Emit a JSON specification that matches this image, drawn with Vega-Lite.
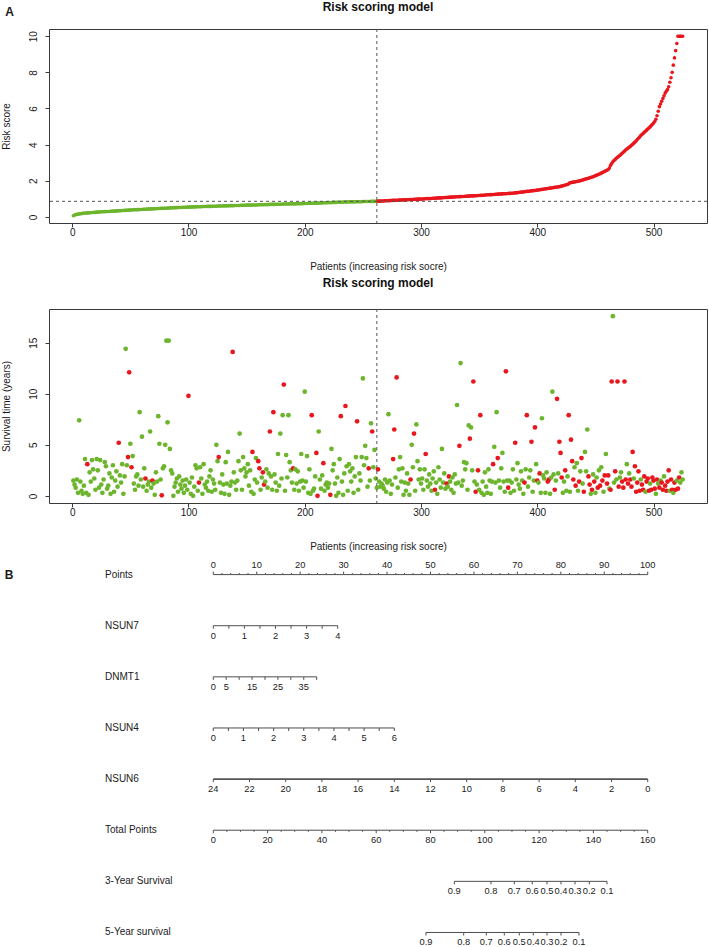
{
"$schema": "https://vega.github.io/schema/vega-lite/v6.json",
"autosize": {"type": "pad"},
"padding": {"left": 0, "top": 0, "right": 3, "bottom": 2},
"background": "white",
"config": {
  "font": "Liberation Sans",
  "view": {"stroke": "#3a3a3a", "strokeWidth": 1},
  "axis": {"grid": false, "domain": false, "tickColor": "#3a3a3a", "tickSize": 4, "labelColor": "#1a1a1a", "titleColor": "#1a1a1a", "labelFontSize": 10, "titleFontSize": 10, "titleFontWeight": "normal", "labelFont": "Liberation Sans", "titleFont": "Liberation Sans", "labelOverlap": false, "labelBound": false},
  "axisX": {"labelPadding": 0, "titlePadding": 24, "labelFlush": false},
  "axisY": {"labelAngle": 270, "labelAlign": "center", "labelBaseline": "alphabetic", "labelPadding": 9, "titlePadding": 19, "titleBaseline": "alphabetic", "labelFlush": false},
  "title": {"fontSize": 12, "fontWeight": "bold", "color": "#111111", "anchor": "middle", "frame": "group", "baseline": "alphabetic"},
  "text": {"font": "Liberation Sans", "color": "#1a1a1a"}
},
"datasets": {
"pts": [
{"p":1,"r":0.06,"t":1.5,"s":0},{"p":2,"r":0.10,"t":1.1,"s":0},{"p":3,"r":0.12,"t":0.8,"s":0},{"p":4,"r":0.14,"t":1.6,"s":0},{"p":5,"r":0.15,"t":0.3,"s":0},{"p":6,"r":0.16,"t":7.4,"s":0},{"p":7,"r":0.17,"t":1.4,"s":0},{"p":8,"r":0.18,"t":0.5,"s":0},{"p":9,"r":0.19,"t":0.2,"s":0},{"p":10,"r":0.20,"t":1.0,"s":0},
{"p":11,"r":0.21,"t":3.6,"s":0},{"p":12,"r":0.21,"t":0.3,"s":0},{"p":13,"r":0.22,"t":3.1,"s":1},{"p":14,"r":0.22,"t":0.1,"s":0},{"p":15,"r":0.23,"t":2.3,"s":0},{"p":16,"r":0.23,"t":1.4,"s":0},{"p":17,"r":0.24,"t":3.5,"s":0},{"p":18,"r":0.24,"t":2.6,"s":0},{"p":19,"r":0.25,"t":1.7,"s":0},{"p":20,"r":0.25,"t":0.6,"s":0},
{"p":21,"r":0.26,"t":3.6,"s":0},{"p":22,"r":0.26,"t":2.5,"s":0},{"p":23,"r":0.27,"t":0.8,"s":0},{"p":24,"r":0.27,"t":3.5,"s":0},{"p":25,"r":0.28,"t":1.1,"s":0},{"p":26,"r":0.28,"t":0.3,"s":0},{"p":27,"r":0.28,"t":1.6,"s":0},{"p":28,"r":0.29,"t":3.3,"s":0},{"p":29,"r":0.29,"t":2.9,"s":0},{"p":30,"r":0.30,"t":0.7,"s":0},
{"p":31,"r":0.30,"t":1.0,"s":0},{"p":32,"r":0.30,"t":2.2,"s":0},{"p":33,"r":0.31,"t":0.2,"s":0},{"p":34,"r":0.31,"t":1.8,"s":0},{"p":35,"r":0.32,"t":3.0,"s":0},{"p":36,"r":0.32,"t":0.4,"s":0},{"p":37,"r":0.32,"t":1.5,"s":0},{"p":38,"r":0.33,"t":2.4,"s":0},{"p":39,"r":0.33,"t":0.9,"s":0},{"p":40,"r":0.34,"t":5.2,"s":1},
{"p":41,"r":0.34,"t":2.0,"s":0},{"p":42,"r":0.34,"t":1.3,"s":0},{"p":43,"r":0.35,"t":3.1,"s":0},{"p":44,"r":0.35,"t":0.2,"s":0},{"p":45,"r":0.36,"t":1.9,"s":0},{"p":46,"r":0.36,"t":14.4,"s":0},{"p":47,"r":0.36,"t":3.0,"s":0},{"p":48,"r":0.37,"t":3.8,"s":1},{"p":49,"r":0.37,"t":12.1,"s":1},{"p":50,"r":0.38,"t":5.1,"s":0},
{"p":51,"r":0.38,"t":2.8,"s":1},{"p":52,"r":0.39,"t":3.9,"s":0},{"p":53,"r":0.39,"t":1.2,"s":0},{"p":54,"r":0.39,"t":0.6,"s":0},{"p":55,"r":0.40,"t":1.9,"s":0},{"p":56,"r":0.40,"t":2.1,"s":0},{"p":57,"r":0.40,"t":1.0,"s":0},{"p":58,"r":0.41,"t":8.2,"s":0},{"p":59,"r":0.41,"t":1.6,"s":0},{"p":60,"r":0.41,"t":5.8,"s":0},
{"p":61,"r":0.42,"t":0.9,"s":0},{"p":62,"r":0.42,"t":2.7,"s":0},{"p":63,"r":0.42,"t":1.7,"s":1},{"p":64,"r":0.43,"t":0.5,"s":0},{"p":65,"r":0.43,"t":1.1,"s":0},{"p":66,"r":0.43,"t":1.4,"s":0},{"p":67,"r":0.44,"t":6.3,"s":0},{"p":68,"r":0.44,"t":0.8,"s":0},{"p":69,"r":0.44,"t":1.5,"s":1},{"p":70,"r":0.45,"t":1.2,"s":0},
{"p":71,"r":0.45,"t":0.1,"s":0},{"p":72,"r":0.45,"t":2.3,"s":0},{"p":73,"r":0.46,"t":1.4,"s":0},{"p":74,"r":0.46,"t":7.8,"s":0},{"p":75,"r":0.46,"t":5.1,"s":0},{"p":76,"r":0.47,"t":1.6,"s":0},{"p":77,"r":0.47,"t":0.05,"s":1},{"p":78,"r":0.47,"t":2.7,"s":0},{"p":79,"r":0.48,"t":2.9,"s":0},{"p":80,"r":0.48,"t":5.0,"s":0},
{"p":81,"r":0.48,"t":15.2,"s":0},{"p":82,"r":0.49,"t":7.2,"s":0},{"p":83,"r":0.49,"t":15.2,"s":0},{"p":84,"r":0.49,"t":4.6,"s":0},{"p":85,"r":0.50,"t":2.5,"s":0},{"p":86,"r":0.50,"t":2.2,"s":0},{"p":87,"r":0.50,"t":0.0,"s":0},{"p":88,"r":0.51,"t":0.9,"s":0},{"p":89,"r":0.51,"t":1.3,"s":0},{"p":90,"r":0.51,"t":1.7,"s":0},
{"p":91,"r":0.52,"t":0.4,"s":0},{"p":92,"r":0.52,"t":1.9,"s":0},{"p":93,"r":0.52,"t":1.1,"s":0},{"p":94,"r":0.52,"t":0.7,"s":0},{"p":95,"r":0.53,"t":1.5,"s":0},{"p":96,"r":0.53,"t":0.3,"s":0},{"p":97,"r":0.53,"t":1.0,"s":0},{"p":98,"r":0.53,"t":1.6,"s":0},{"p":99,"r":0.54,"t":0.6,"s":0},{"p":100,"r":0.54,"t":9.8,"s":1},
{"p":101,"r":0.54,"t":1.3,"s":0},{"p":102,"r":0.54,"t":0.2,"s":0},{"p":103,"r":0.55,"t":1.8,"s":0},{"p":104,"r":0.55,"t":0.0,"s":0},{"p":105,"r":0.55,"t":0.9,"s":0},{"p":106,"r":0.55,"t":3.0,"s":0},{"p":107,"r":0.56,"t":2.7,"s":0},{"p":108,"r":0.56,"t":0.5,"s":0},{"p":109,"r":0.56,"t":1.3,"s":1},{"p":110,"r":0.56,"t":2.8,"s":0},
{"p":111,"r":0.56,"t":1.7,"s":0},{"p":112,"r":0.57,"t":0.2,"s":0},{"p":113,"r":0.57,"t":3.1,"s":0},{"p":114,"r":0.57,"t":1.1,"s":0},{"p":115,"r":0.57,"t":0.8,"s":0},{"p":116,"r":0.58,"t":1.4,"s":0},{"p":117,"r":0.58,"t":0.5,"s":0},{"p":118,"r":0.58,"t":1.9,"s":0},{"p":119,"r":0.58,"t":2.5,"s":0},{"p":120,"r":0.58,"t":0.4,"s":0},
{"p":121,"r":0.59,"t":1.6,"s":0},{"p":122,"r":0.59,"t":1.2,"s":0},{"p":123,"r":0.59,"t":0.6,"s":0},{"p":124,"r":0.59,"t":5.0,"s":0},{"p":125,"r":0.60,"t":3.4,"s":0},{"p":126,"r":0.60,"t":3.8,"s":1},{"p":127,"r":0.60,"t":1.3,"s":0},{"p":128,"r":0.60,"t":0.3,"s":0},{"p":129,"r":0.60,"t":2.1,"s":0},{"p":130,"r":0.61,"t":1.1,"s":0},
{"p":131,"r":0.61,"t":0.2,"s":0},{"p":132,"r":0.61,"t":3.3,"s":0},{"p":133,"r":0.61,"t":1.2,"s":0},{"p":134,"r":0.61,"t":4.3,"s":0},{"p":135,"r":0.62,"t":0.1,"s":0},{"p":136,"r":0.62,"t":1.0,"s":0},{"p":137,"r":0.62,"t":1.4,"s":0},{"p":138,"r":0.62,"t":14.1,"s":1},{"p":139,"r":0.62,"t":2.3,"s":0},{"p":140,"r":0.63,"t":1.3,"s":0},
{"p":141,"r":0.63,"t":0.6,"s":0},{"p":142,"r":0.63,"t":1.5,"s":0},{"p":143,"r":0.63,"t":3.4,"s":0},{"p":144,"r":0.63,"t":6.1,"s":0},{"p":145,"r":0.64,"t":2.5,"s":0},{"p":146,"r":0.64,"t":0.6,"s":0},{"p":147,"r":0.64,"t":3.8,"s":0},{"p":148,"r":0.64,"t":2.7,"s":0},{"p":149,"r":0.64,"t":1.9,"s":0},{"p":150,"r":0.65,"t":2.3,"s":0},
{"p":151,"r":0.65,"t":3.1,"s":0},{"p":152,"r":0.65,"t":1.0,"s":0},{"p":153,"r":0.65,"t":2.5,"s":0},{"p":154,"r":0.65,"t":0.4,"s":0},{"p":155,"r":0.66,"t":4.3,"s":1},{"p":156,"r":0.66,"t":0.2,"s":0},{"p":157,"r":0.66,"t":1.6,"s":0},{"p":158,"r":0.66,"t":3.7,"s":0},{"p":159,"r":0.66,"t":1.3,"s":0},{"p":160,"r":0.67,"t":3.4,"s":1},
{"p":161,"r":0.67,"t":2.7,"s":1},{"p":162,"r":0.67,"t":0.6,"s":0},{"p":163,"r":0.67,"t":1.8,"s":0},{"p":164,"r":0.67,"t":2.3,"s":1},{"p":165,"r":0.68,"t":1.1,"s":1},{"p":166,"r":0.68,"t":1.4,"s":0},{"p":167,"r":0.68,"t":2.6,"s":0},{"p":168,"r":0.68,"t":0.8,"s":0},{"p":169,"r":0.68,"t":2.2,"s":0},{"p":170,"r":0.69,"t":6.3,"s":1},
{"p":171,"r":0.69,"t":1.9,"s":0},{"p":172,"r":0.69,"t":0.6,"s":0},{"p":173,"r":0.69,"t":8.2,"s":1},{"p":174,"r":0.69,"t":2.1,"s":0},{"p":175,"r":0.70,"t":1.3,"s":0},{"p":176,"r":0.70,"t":0.5,"s":0},{"p":177,"r":0.70,"t":4.1,"s":0},{"p":178,"r":0.70,"t":1.0,"s":0},{"p":179,"r":0.70,"t":6.1,"s":0},{"p":180,"r":0.70,"t":1.7,"s":0},
{"p":181,"r":0.71,"t":7.9,"s":0},{"p":182,"r":0.71,"t":10.9,"s":1},{"p":183,"r":0.71,"t":0.5,"s":0},{"p":184,"r":0.71,"t":4.0,"s":0},{"p":185,"r":0.71,"t":1.8,"s":0},{"p":186,"r":0.71,"t":7.9,"s":0},{"p":187,"r":0.72,"t":3.3,"s":0},{"p":188,"r":0.72,"t":2.5,"s":0},{"p":189,"r":0.72,"t":1.3,"s":0},{"p":190,"r":0.72,"t":2.7,"s":1},
{"p":191,"r":0.72,"t":0.6,"s":0},{"p":192,"r":0.72,"t":2.6,"s":0},{"p":193,"r":0.73,"t":1.2,"s":0},{"p":194,"r":0.73,"t":2.4,"s":0},{"p":195,"r":0.73,"t":0.5,"s":0},{"p":196,"r":0.73,"t":1.4,"s":0},{"p":197,"r":0.73,"t":4.1,"s":0},{"p":198,"r":0.73,"t":1.5,"s":0},{"p":199,"r":0.74,"t":0.8,"s":0},{"p":200,"r":0.74,"t":10.2,"s":0},
{"p":201,"r":0.74,"t":1.4,"s":0},{"p":202,"r":0.74,"t":3.9,"s":0},{"p":203,"r":0.75,"t":0.3,"s":0},{"p":204,"r":0.75,"t":2.6,"s":0},{"p":205,"r":0.75,"t":0.2,"s":0},{"p":206,"r":0.75,"t":7.9,"s":1},{"p":207,"r":0.75,"t":0.5,"s":0},{"p":208,"r":0.76,"t":0.7,"s":0},{"p":209,"r":0.76,"t":1.9,"s":0},{"p":210,"r":0.76,"t":4.2,"s":1},
{"p":211,"r":0.76,"t":0.0,"s":1},{"p":212,"r":0.77,"t":6.3,"s":0},{"p":213,"r":0.77,"t":1.6,"s":0},{"p":214,"r":0.77,"t":0.7,"s":0},{"p":215,"r":0.77,"t":2.0,"s":0},{"p":216,"r":0.78,"t":3.2,"s":1},{"p":217,"r":0.78,"t":0.5,"s":0},{"p":218,"r":0.78,"t":1.1,"s":0},{"p":219,"r":0.78,"t":1.3,"s":0},{"p":220,"r":0.79,"t":0.8,"s":0},
{"p":221,"r":0.79,"t":1.2,"s":0},{"p":222,"r":0.79,"t":0.1,"s":1},{"p":223,"r":0.79,"t":4.6,"s":0},{"p":224,"r":0.80,"t":2.5,"s":0},{"p":225,"r":0.80,"t":3.1,"s":0},{"p":226,"r":0.80,"t":1.2,"s":0},{"p":227,"r":0.80,"t":0.0,"s":0},{"p":228,"r":0.81,"t":1.8,"s":0},{"p":229,"r":0.81,"t":0.3,"s":0},{"p":230,"r":0.81,"t":3.6,"s":0},
{"p":231,"r":0.81,"t":7.8,"s":1},{"p":232,"r":0.81,"t":1.4,"s":0},{"p":233,"r":0.82,"t":0.1,"s":0},{"p":234,"r":0.82,"t":2.2,"s":0},{"p":235,"r":0.82,"t":8.8,"s":1},{"p":236,"r":0.82,"t":2.9,"s":0},{"p":237,"r":0.82,"t":0.5,"s":0},{"p":238,"r":0.83,"t":3.1,"s":0},{"p":239,"r":0.83,"t":2.4,"s":0},{"p":240,"r":0.83,"t":1.4,"s":0},
{"p":241,"r":0.83,"t":2.7,"s":0},{"p":242,"r":0.83,"t":0.3,"s":0},{"p":243,"r":0.83,"t":1.9,"s":0},{"p":244,"r":0.84,"t":3.8,"s":0},{"p":245,"r":0.84,"t":7.3,"s":1},{"p":246,"r":0.84,"t":0.6,"s":0},{"p":247,"r":0.84,"t":2.2,"s":0},{"p":248,"r":0.84,"t":1.5,"s":0},{"p":249,"r":0.84,"t":3.8,"s":0},{"p":250,"r":0.85,"t":11.5,"s":0},
{"p":251,"r":0.85,"t":3.0,"s":0},{"p":252,"r":0.85,"t":4.9,"s":0},{"p":253,"r":0.85,"t":3.7,"s":0},{"p":254,"r":0.85,"t":0.9,"s":0},{"p":255,"r":0.85,"t":2.7,"s":1},{"p":256,"r":0.85,"t":1.5,"s":0},{"p":257,"r":0.86,"t":7.1,"s":0},{"p":258,"r":0.86,"t":6.3,"s":1},{"p":259,"r":0.86,"t":2.8,"s":0},{"p":260,"r":0.86,"t":4.5,"s":0},
{"p":261,"r":0.86,"t":1.7,"s":0},{"p":262,"r":0.86,"t":0.8,"s":0},{"p":263,"r":0.87,"t":2.6,"s":1},{"p":264,"r":0.87,"t":1.4,"s":0},{"p":265,"r":0.87,"t":0.9,"s":0},{"p":266,"r":0.88,"t":1.2,"s":0},{"p":267,"r":0.88,"t":1.0,"s":0},{"p":268,"r":0.88,"t":0.7,"s":0},{"p":269,"r":0.89,"t":1.6,"s":0},{"p":270,"r":0.89,"t":0.4,"s":0},
{"p":271,"r":0.89,"t":1.3,"s":0},{"p":272,"r":0.90,"t":8.0,"s":0},{"p":273,"r":0.90,"t":1.5,"s":0},{"p":274,"r":0.90,"t":0.2,"s":0},{"p":275,"r":0.91,"t":1.1,"s":0},{"p":276,"r":0.91,"t":3.6,"s":1},{"p":277,"r":0.91,"t":6.5,"s":1},{"p":278,"r":0.92,"t":1.8,"s":0},{"p":279,"r":0.92,"t":11.6,"s":1},{"p":280,"r":0.92,"t":0.8,"s":0},
{"p":281,"r":0.93,"t":2.6,"s":0},{"p":282,"r":0.93,"t":3.8,"s":0},{"p":283,"r":0.93,"t":1.4,"s":0},{"p":284,"r":0.94,"t":2.7,"s":0},{"p":285,"r":0.94,"t":0.1,"s":0},{"p":286,"r":0.94,"t":1.3,"s":0},{"p":287,"r":0.95,"t":0.5,"s":0},{"p":288,"r":0.95,"t":2.2,"s":0},{"p":289,"r":0.95,"t":1.2,"s":0},{"p":290,"r":0.96,"t":0.1,"s":0},
{"p":291,"r":0.96,"t":1.6,"s":1},{"p":292,"r":0.96,"t":5.0,"s":0},{"p":293,"r":0.96,"t":2.8,"s":0},{"p":294,"r":0.97,"t":6.1,"s":1},{"p":295,"r":0.97,"t":0.5,"s":0},{"p":296,"r":0.97,"t":7.0,"s":0},{"p":297,"r":0.98,"t":3.4,"s":0},{"p":298,"r":0.98,"t":1.6,"s":0},{"p":299,"r":0.98,"t":2.6,"s":0},{"p":300,"r":0.98,"t":1.2,"s":0},
{"p":301,"r":0.99,"t":1.7,"s":0},{"p":302,"r":0.99,"t":0.6,"s":0},{"p":303,"r":1.00,"t":2.6,"s":0},{"p":304,"r":1.00,"t":4.1,"s":1},{"p":305,"r":1.01,"t":1.5,"s":0},{"p":306,"r":1.01,"t":0.9,"s":0},{"p":307,"r":1.01,"t":2.1,"s":0},{"p":308,"r":1.02,"t":1.2,"s":0},{"p":309,"r":1.02,"t":0.5,"s":0},{"p":310,"r":1.03,"t":1.7,"s":0},
{"p":311,"r":1.03,"t":2.4,"s":0},{"p":312,"r":1.03,"t":0.6,"s":1},{"p":313,"r":1.04,"t":1.3,"s":0},{"p":314,"r":1.04,"t":0.2,"s":0},{"p":315,"r":1.05,"t":2.8,"s":0},{"p":316,"r":1.05,"t":1.6,"s":0},{"p":317,"r":1.05,"t":0.8,"s":0},{"p":318,"r":1.06,"t":4.6,"s":0},{"p":319,"r":1.06,"t":1.3,"s":0},{"p":320,"r":1.07,"t":2.2,"s":0},
{"p":321,"r":1.07,"t":0.7,"s":0},{"p":322,"r":1.07,"t":1.2,"s":1},{"p":323,"r":1.08,"t":0.9,"s":0},{"p":324,"r":1.08,"t":1.9,"s":1},{"p":325,"r":1.09,"t":1.4,"s":0},{"p":326,"r":1.09,"t":0.6,"s":0},{"p":327,"r":1.09,"t":1.8,"s":0},{"p":328,"r":1.10,"t":0.3,"s":0},{"p":329,"r":1.10,"t":2.1,"s":0},{"p":330,"r":1.11,"t":1.2,"s":0},
{"p":331,"r":1.11,"t":8.9,"s":0},{"p":332,"r":1.11,"t":1.3,"s":0},{"p":333,"r":1.12,"t":4.9,"s":1},{"p":334,"r":1.12,"t":13.0,"s":0},{"p":335,"r":1.13,"t":1.0,"s":0},{"p":336,"r":1.13,"t":1.5,"s":0},{"p":337,"r":1.13,"t":3.3,"s":0},{"p":338,"r":1.14,"t":2.6,"s":0},{"p":339,"r":1.14,"t":3.2,"s":0},{"p":340,"r":1.15,"t":0.6,"s":0},
{"p":341,"r":1.15,"t":6.9,"s":0},{"p":342,"r":1.15,"t":5.6,"s":1},{"p":343,"r":1.16,"t":6.7,"s":0},{"p":344,"r":1.16,"t":2.5,"s":0},{"p":345,"r":1.16,"t":11.2,"s":1},{"p":346,"r":1.17,"t":1.4,"s":0},{"p":347,"r":1.17,"t":0.4,"s":1},{"p":348,"r":1.17,"t":1.1,"s":0},{"p":349,"r":1.18,"t":2.5,"s":1},{"p":350,"r":1.18,"t":0.6,"s":0},
{"p":351,"r":1.19,"t":7.9,"s":1},{"p":352,"r":1.19,"t":0.3,"s":0},{"p":353,"r":1.20,"t":1.4,"s":0},{"p":354,"r":1.20,"t":0.1,"s":0},{"p":355,"r":1.21,"t":2.3,"s":0},{"p":356,"r":1.21,"t":0.9,"s":0},{"p":357,"r":1.22,"t":0.3,"s":0},{"p":358,"r":1.22,"t":2.6,"s":0},{"p":359,"r":1.22,"t":1.5,"s":0},{"p":360,"r":1.23,"t":0.2,"s":0},
{"p":361,"r":1.23,"t":1.4,"s":0},{"p":362,"r":1.24,"t":3.1,"s":1},{"p":363,"r":1.24,"t":4.8,"s":0},{"p":364,"r":1.25,"t":1.3,"s":0},{"p":365,"r":1.25,"t":8.2,"s":0},{"p":366,"r":1.26,"t":3.7,"s":1},{"p":367,"r":1.26,"t":1.5,"s":0},{"p":368,"r":1.26,"t":0.8,"s":0},{"p":369,"r":1.27,"t":2.7,"s":0},{"p":370,"r":1.27,"t":4.2,"s":0},
{"p":371,"r":1.28,"t":1.4,"s":0},{"p":372,"r":1.28,"t":0.4,"s":0},{"p":373,"r":1.28,"t":12.2,"s":1},{"p":374,"r":1.29,"t":1.5,"s":0},{"p":375,"r":1.29,"t":0.8,"s":1},{"p":376,"r":1.30,"t":1.5,"s":0},{"p":377,"r":1.30,"t":0.3,"s":0},{"p":378,"r":1.31,"t":1.3,"s":0},{"p":379,"r":1.31,"t":2.6,"s":0},{"p":380,"r":1.32,"t":0.5,"s":0},
{"p":381,"r":1.33,"t":5.2,"s":1},{"p":382,"r":1.33,"t":1.6,"s":0},{"p":383,"r":1.34,"t":3.2,"s":0},{"p":384,"r":1.35,"t":1.1,"s":0},{"p":385,"r":1.36,"t":0.7,"s":0},{"p":386,"r":1.37,"t":2.4,"s":0},{"p":387,"r":1.37,"t":1.5,"s":0},{"p":388,"r":1.38,"t":0.2,"s":0},{"p":389,"r":1.39,"t":1.3,"s":1},{"p":390,"r":1.40,"t":2.6,"s":0},
{"p":391,"r":1.41,"t":7.9,"s":1},{"p":392,"r":1.41,"t":0.9,"s":0},{"p":393,"r":1.42,"t":1.8,"s":0},{"p":394,"r":1.43,"t":2.5,"s":0},{"p":395,"r":1.44,"t":5.3,"s":1},{"p":396,"r":1.45,"t":0.4,"s":0},{"p":397,"r":1.45,"t":1.5,"s":0},{"p":398,"r":1.46,"t":6.7,"s":1},{"p":399,"r":1.47,"t":3.1,"s":0},{"p":400,"r":1.48,"t":1.5,"s":1},
{"p":401,"r":1.49,"t":1.3,"s":0},{"p":402,"r":1.50,"t":2.2,"s":1},{"p":403,"r":1.51,"t":0.3,"s":0},{"p":404,"r":1.52,"t":7.6,"s":0},{"p":405,"r":1.53,"t":2.0,"s":0},{"p":406,"r":1.54,"t":1.7,"s":0},{"p":407,"r":1.55,"t":0.3,"s":0},{"p":408,"r":1.56,"t":2.3,"s":0},{"p":409,"r":1.57,"t":1.4,"s":1},{"p":410,"r":1.58,"t":1.6,"s":1},
{"p":411,"r":1.59,"t":0.2,"s":0},{"p":412,"r":1.60,"t":1.8,"s":0},{"p":413,"r":1.61,"t":10.2,"s":0},{"p":414,"r":1.62,"t":2.1,"s":0},{"p":415,"r":1.63,"t":0.6,"s":1},{"p":416,"r":1.64,"t":1.5,"s":0},{"p":417,"r":1.65,"t":9.5,"s":1},{"p":418,"r":1.66,"t":2.2,"s":0},{"p":419,"r":1.67,"t":5.3,"s":1},{"p":420,"r":1.69,"t":4.2,"s":1},
{"p":421,"r":1.70,"t":1.8,"s":1},{"p":422,"r":1.72,"t":0.3,"s":0},{"p":423,"r":1.74,"t":1.4,"s":0},{"p":424,"r":1.76,"t":2.5,"s":1},{"p":425,"r":1.78,"t":0.5,"s":0},{"p":426,"r":1.80,"t":1.9,"s":0},{"p":427,"r":1.82,"t":7.9,"s":1},{"p":428,"r":1.88,"t":0.4,"s":0},{"p":429,"r":1.90,"t":5.5,"s":1},{"p":430,"r":1.91,"t":3.4,"s":1},
{"p":431,"r":1.92,"t":1.6,"s":1},{"p":432,"r":1.93,"t":2.8,"s":0},{"p":433,"r":1.94,"t":1.0,"s":1},{"p":434,"r":1.96,"t":3.2,"s":0},{"p":435,"r":1.97,"t":0.5,"s":0},{"p":436,"r":1.99,"t":1.4,"s":1},{"p":437,"r":2.00,"t":2.4,"s":0},{"p":438,"r":2.02,"t":3.7,"s":1},{"p":439,"r":2.04,"t":1.2,"s":0},{"p":440,"r":2.06,"t":0.4,"s":1},
{"p":441,"r":2.08,"t":4.3,"s":0},{"p":442,"r":2.10,"t":2.4,"s":0},{"p":443,"r":2.12,"t":6.5,"s":0},{"p":444,"r":2.14,"t":1.9,"s":1},{"p":445,"r":2.16,"t":1.1,"s":1},{"p":446,"r":2.18,"t":0.2,"s":0},{"p":447,"r":2.20,"t":0.6,"s":1},{"p":448,"r":2.22,"t":2.1,"s":0},{"p":449,"r":2.25,"t":1.4,"s":1},{"p":450,"r":2.28,"t":0.3,"s":0},
{"p":451,"r":2.30,"t":1.8,"s":0},{"p":452,"r":2.33,"t":0.8,"s":1},{"p":453,"r":2.36,"t":2.5,"s":0},{"p":454,"r":2.39,"t":1.0,"s":1},{"p":455,"r":2.42,"t":2.8,"s":0},{"p":456,"r":2.45,"t":1.5,"s":1},{"p":457,"r":2.48,"t":0.4,"s":0},{"p":458,"r":2.52,"t":2.0,"s":1},{"p":459,"r":2.55,"t":4.1,"s":0},{"p":460,"r":2.58,"t":1.2,"s":1},
{"p":461,"r":2.62,"t":2.0,"s":1},{"p":462,"r":2.70,"t":0.7,"s":0},{"p":463,"r":2.85,"t":0.6,"s":1},{"p":464,"r":2.95,"t":11.2,"s":1},{"p":465,"r":3.05,"t":17.6,"s":0},{"p":466,"r":3.12,"t":1.3,"s":0},{"p":467,"r":3.18,"t":2.4,"s":1},{"p":468,"r":3.24,"t":1.6,"s":0},{"p":469,"r":3.30,"t":11.2,"s":1},{"p":470,"r":3.35,"t":0.9,"s":1},
{"p":471,"r":3.40,"t":1.8,"s":0},{"p":472,"r":3.46,"t":2.3,"s":0},{"p":473,"r":3.52,"t":1.4,"s":1},{"p":474,"r":3.58,"t":0.8,"s":1},{"p":475,"r":3.64,"t":11.2,"s":1},{"p":476,"r":3.70,"t":1.6,"s":1},{"p":477,"r":3.75,"t":3.1,"s":0},{"p":478,"r":3.80,"t":1.2,"s":1},{"p":479,"r":3.85,"t":2.2,"s":0},{"p":480,"r":3.90,"t":1.6,"s":1},
{"p":481,"r":3.96,"t":0.9,"s":1},{"p":482,"r":4.02,"t":4.3,"s":1},{"p":483,"r":4.08,"t":1.7,"s":0},{"p":484,"r":4.14,"t":2.9,"s":1},{"p":485,"r":4.20,"t":0.4,"s":1},{"p":486,"r":4.28,"t":1.3,"s":1},{"p":487,"r":4.35,"t":2.4,"s":1},{"p":488,"r":4.42,"t":0.5,"s":1},{"p":489,"r":4.50,"t":1.6,"s":0},{"p":490,"r":4.56,"t":1.1,"s":1},
{"p":491,"r":4.62,"t":0.6,"s":1},{"p":492,"r":4.68,"t":1.9,"s":1},{"p":493,"r":4.74,"t":0.4,"s":0},{"p":494,"r":4.80,"t":1.4,"s":1},{"p":495,"r":4.86,"t":1.7,"s":1},{"p":496,"r":4.92,"t":0.5,"s":1},{"p":497,"r":4.98,"t":1.2,"s":0},{"p":498,"r":5.05,"t":0.6,"s":1},{"p":499,"r":5.12,"t":1.8,"s":1},{"p":500,"r":5.20,"t":1.5,"s":1},
{"p":501,"r":5.28,"t":0.7,"s":1},{"p":502,"r":5.40,"t":0.2,"s":0},{"p":503,"r":5.60,"t":1.6,"s":1},{"p":504,"r":5.85,"t":1.2,"s":0},{"p":505,"r":6.10,"t":0.8,"s":1},{"p":506,"r":6.25,"t":1.5,"s":0},{"p":507,"r":6.40,"t":1.3,"s":1},{"p":508,"r":6.55,"t":0.6,"s":1},{"p":509,"r":6.70,"t":1.9,"s":0},{"p":510,"r":6.85,"t":1.0,"s":1},
{"p":511,"r":6.95,"t":0.5,"s":1},{"p":512,"r":7.05,"t":1.4,"s":1},{"p":513,"r":7.20,"t":2.5,"s":1},{"p":514,"r":7.45,"t":0.5,"s":0},{"p":515,"r":7.70,"t":1.6,"s":1},{"p":516,"r":8.00,"t":0.6,"s":1},{"p":517,"r":8.40,"t":0.3,"s":0},{"p":518,"r":8.80,"t":1.3,"s":1},{"p":519,"r":9.20,"t":0.6,"s":1},{"p":520,"r":9.60,"t":1.5,"s":0},
{"p":521,"r":10,"t":0.7,"s":1},{"p":522,"r":10,"t":1.8,"s":1},{"p":523,"r":10,"t":1.3,"s":0},{"p":524,"r":10,"t":2.3,"s":0},{"p":525,"r":10,"t":1.6,"s":0}
],
"rows": [
{"row":"Points","k":1},{"row":"NSUN7","k":2},{"row":"DNMT1","k":3},{"row":"NSUN4","k":4},{"row":"NSUN6","k":5},{"row":"Total Points","k":6},{"row":"3-Year Survival","k":7},{"row":"5-Year survival","k":8}
],
"nomo": [
{"k":1,"v":"0","pts":0},{"k":1,"v":"","pts":2},{"k":1,"v":"","pts":4},{"k":1,"v":"","pts":6},{"k":1,"v":"","pts":8},{"k":1,"v":"10","pts":10},{"k":1,"v":"","pts":12},{"k":1,"v":"","pts":14},{"k":1,"v":"","pts":16},{"k":1,"v":"","pts":18},{"k":1,"v":"20","pts":20},{"k":1,"v":"","pts":22},{"k":1,"v":"","pts":24},{"k":1,"v":"","pts":26},{"k":1,"v":"","pts":28},{"k":1,"v":"30","pts":30},{"k":1,"v":"","pts":32},{"k":1,"v":"","pts":34},{"k":1,"v":"","pts":36},{"k":1,"v":"","pts":38},{"k":1,"v":"40","pts":40},{"k":1,"v":"","pts":42},{"k":1,"v":"","pts":44},{"k":1,"v":"","pts":46},{"k":1,"v":"","pts":48},{"k":1,"v":"50","pts":50},{"k":1,"v":"","pts":52},{"k":1,"v":"","pts":54},{"k":1,"v":"","pts":56},{"k":1,"v":"","pts":58},{"k":1,"v":"60","pts":60},{"k":1,"v":"","pts":62},{"k":1,"v":"","pts":64},{"k":1,"v":"","pts":66},{"k":1,"v":"","pts":68},{"k":1,"v":"70","pts":70},{"k":1,"v":"","pts":72},{"k":1,"v":"","pts":74},{"k":1,"v":"","pts":76},{"k":1,"v":"","pts":78},{"k":1,"v":"80","pts":80},{"k":1,"v":"","pts":82},{"k":1,"v":"","pts":84},{"k":1,"v":"","pts":86},{"k":1,"v":"","pts":88},{"k":1,"v":"90","pts":90},{"k":1,"v":"","pts":92},{"k":1,"v":"","pts":94},{"k":1,"v":"","pts":96},{"k":1,"v":"","pts":98},{"k":1,"v":"100","pts":100},
{"k":2,"v":"0","pts":0},{"k":2,"v":"","pts":3.58},{"k":2,"v":"1","pts":7.16},{"k":2,"v":"","pts":10.74},{"k":2,"v":"2","pts":14.32},{"k":2,"v":"","pts":17.9},{"k":2,"v":"3","pts":21.48},{"k":2,"v":"","pts":25.06},{"k":2,"v":"4","pts":28.64},
{"k":3,"v":"0","pts":0},{"k":3,"v":"5","pts":2.975},{"k":3,"v":"","pts":5.95},{"k":3,"v":"15","pts":8.925},{"k":3,"v":"","pts":11.9},{"k":3,"v":"25","pts":14.875},{"k":3,"v":"","pts":17.85},{"k":3,"v":"35","pts":20.825},{"k":3,"v":"","pts":23.8},
{"k":4,"v":"0","pts":0},{"k":4,"v":"","pts":3.47},{"k":4,"v":"1","pts":6.94},{"k":4,"v":"","pts":10.42},{"k":4,"v":"2","pts":13.89},{"k":4,"v":"","pts":17.36},{"k":4,"v":"3","pts":20.83},{"k":4,"v":"","pts":24.31},{"k":4,"v":"4","pts":27.78},{"k":4,"v":"","pts":31.25},{"k":4,"v":"5","pts":34.72},{"k":4,"v":"","pts":38.19},{"k":4,"v":"6","pts":41.67},
{"k":5,"v":"24","pts":0},{"k":5,"v":"22","pts":8.33},{"k":5,"v":"20","pts":16.67},{"k":5,"v":"18","pts":25},{"k":5,"v":"16","pts":33.33},{"k":5,"v":"14","pts":41.67},{"k":5,"v":"12","pts":50},{"k":5,"v":"10","pts":58.33},{"k":5,"v":"8","pts":66.67},{"k":5,"v":"6","pts":75},{"k":5,"v":"4","pts":83.33},{"k":5,"v":"2","pts":91.67},{"k":5,"v":"0","pts":100},
{"k":6,"v":"0","pts":0},{"k":6,"v":"","pts":3.125},{"k":6,"v":"","pts":6.25},{"k":6,"v":"","pts":9.375},{"k":6,"v":"20","pts":12.5},{"k":6,"v":"","pts":15.625},{"k":6,"v":"","pts":18.75},{"k":6,"v":"","pts":21.875},{"k":6,"v":"40","pts":25},{"k":6,"v":"","pts":28.125},{"k":6,"v":"","pts":31.25},{"k":6,"v":"","pts":34.375},{"k":6,"v":"60","pts":37.5},{"k":6,"v":"","pts":40.625},{"k":6,"v":"","pts":43.75},{"k":6,"v":"","pts":46.875},{"k":6,"v":"80","pts":50},{"k":6,"v":"","pts":53.125},{"k":6,"v":"","pts":56.25},{"k":6,"v":"","pts":59.375},{"k":6,"v":"100","pts":62.5},{"k":6,"v":"","pts":65.625},{"k":6,"v":"","pts":68.75},{"k":6,"v":"","pts":71.875},{"k":6,"v":"120","pts":75},{"k":6,"v":"","pts":78.125},{"k":6,"v":"","pts":81.25},{"k":6,"v":"","pts":84.375},{"k":6,"v":"140","pts":87.5},{"k":6,"v":"","pts":90.625},{"k":6,"v":"","pts":93.75},{"k":6,"v":"","pts":96.875},{"k":6,"v":"160","pts":100},
{"k":7,"v":"0.9","pts":55.48},{"k":7,"v":"0.8","pts":63.93},{"k":7,"v":"0.7","pts":69.29},{"k":7,"v":"0.6","pts":73.43},{"k":7,"v":"0.5","pts":76.82},{"k":7,"v":"0.4","pts":80.04},{"k":7,"v":"0.3","pts":83.27},{"k":7,"v":"0.2","pts":86.56},{"k":7,"v":"0.1","pts":90.63},
{"k":8,"v":"0.9","pts":48.96},{"k":8,"v":"0.8","pts":57.64},{"k":8,"v":"0.7","pts":62.85},{"k":8,"v":"0.6","pts":66.99},{"k":8,"v":"0.5","pts":70.44},{"k":8,"v":"0.4","pts":73.66},{"k":8,"v":"0.3","pts":76.82},{"k":8,"v":"0.2","pts":80.04},{"k":8,"v":"0.1","pts":84.18}
]
},
"bounds": "flush",
"spacing": 86,
"vconcat": [
 {
  "width": 658, "height": 194,
  "title": {"text": "Risk scoring model", "offset": -8.2},
  "layer": [
   {"data": {"name": "pts"},
    "mark": {"type": "circle", "size": 13, "opacity": 1},
    "encoding": {
      "x": {"field": "p", "type": "quantitative", "scale": {"domain": [-19.96, 545.96], "nice": false, "zero": false}, "axis": {"values": [0,100,200,300,400,500], "title": "Patients (increasing risk socre)", "labelOverlap": false}},
      "y": {"field": "r", "type": "quantitative", "scale": {"domain": [-0.34, 10.4], "nice": false, "zero": false}, "axis": {"values": [0,2,4,6,8,10], "title": "Risk score", "labelOverlap": false, "labelBound": false}},
      "color": {"field": "p", "type": "quantitative", "scale": {"type": "threshold", "domain": [262.5], "range": ["#6cb52d", "#e8161d"]}, "legend": null}
    }},
   {"data": {"values": [{"cut": 0.86, "n": 262}]},
    "mark": {"type": "rule", "strokeDash": [3, 3], "color": "#555555", "strokeWidth": 1},
    "encoding": {"y": {"field": "cut", "type": "quantitative", "axis": {"values": [0,2,4,6,8,10], "title": "Risk score", "labelOverlap": false, "labelBound": false}}}},
   {"data": {"values": [{"cut": 0.86, "n": 262}]},
    "mark": {"type": "rule", "strokeDash": [3, 3], "color": "#555555", "strokeWidth": 1},
    "encoding": {"x": {"field": "n", "type": "quantitative", "axis": {"values": [0,100,200,300,400,500], "title": "Patients (increasing risk socre)", "labelOverlap": false}}}},
   {"data": {"values": [{"lab": "A"}]},
    "mark": {"type": "text", "fontWeight": "bold", "fontSize": 12, "align": "left", "baseline": "middle"},
    "encoding": {"text": {"field": "lab"},
      "x": {"datum": -57.6, "axis": {"values": [0,100,200,300,400,500], "title": "Patients (increasing risk socre)", "labelOverlap": false}},
      "y": {"datum": 11.36, "axis": {"values": [0,2,4,6,8,10], "title": "Risk score", "labelOverlap": false, "labelBound": false}}}}
  ]
 },
 {
  "width": 658, "height": 194,
  "title": {"text": "Risk scoring model", "offset": 19},
  "layer": [
   {"data": {"name": "pts"},
    "mark": {"type": "circle", "size": 22, "opacity": 1},
    "encoding": {
      "x": {"field": "p", "type": "quantitative", "scale": {"domain": [-19.96, 545.96], "nice": false, "zero": false}, "axis": {"values": [0,100,200,300,400,500], "title": "Patients (increasing risk socre)", "labelOverlap": false}},
      "y": {"field": "t", "type": "quantitative", "scale": {"domain": [-0.7, 18.3], "nice": false, "zero": false}, "axis": {"values": [0,5,10,15], "title": "Survival time (years)", "labelOverlap": false, "labelBound": false}},
      "color": {"field": "s", "type": "nominal", "scale": {"domain": [0, 1], "range": ["#6cb52d", "#e8161d"]}, "legend": null}
    }},
   {"data": {"values": [{"n": 262}]},
    "mark": {"type": "rule", "strokeDash": [3, 3], "color": "#555555", "strokeWidth": 1},
    "encoding": {"x": {"field": "n", "type": "quantitative", "axis": {"values": [0,100,200,300,400,500], "title": "Patients (increasing risk socre)", "labelOverlap": false}}}}
  ]
 },
 {
  "width": 658, "height": 358,
  "view": {"stroke": null},
  "layer": [
   {"data": {"name": "nomo"},
    "transform": [{"filter": "datum.k !== 5"}],
    "mark": {"type": "line", "color": "#4d4d4d", "strokeWidth": 1},
    "encoding": {
      "x": {"field": "pts", "type": "quantitative", "scale": {"domain": [-37.82, 113.65], "nice": false, "zero": false}, "axis": null},
      "y": {"field": "k", "type": "quantitative", "scale": {"domain": [1.2817, 8.284], "reverse": true, "nice": false, "zero": false}, "axis": null},
      "detail": {"field": "k", "type": "nominal"},
      "order": {"field": "pts", "type": "quantitative"}}},
   {"data": {"name": "nomo"},
    "transform": [{"filter": "datum.k === 5"}],
    "mark": {"type": "line", "color": "#555555", "strokeWidth": 1.7},
    "encoding": {
      "x": {"field": "pts", "type": "quantitative", "axis": null},
      "y": {"field": "k", "type": "quantitative", "axis": null},
      "order": {"field": "pts", "type": "quantitative"}}},
   {"data": {"name": "nomo"},
    "transform": [{"filter": "datum.k > 1 && (datum.v !== '' || datum.k !== 6)"}],
    "mark": {"type": "rule", "color": "#4d4d4d", "strokeWidth": 1, "y2Offset": 3},
    "encoding": {"x": {"field": "pts", "type": "quantitative", "axis": null}, "y": {"field": "k", "type": "quantitative", "axis": null}, "y2": {"field": "k"}}},
   {"data": {"name": "nomo"},
    "transform": [{"filter": "datum.k === 6 && datum.v === ''"}],
    "mark": {"type": "rule", "color": "#4d4d4d", "strokeWidth": 1, "y2Offset": 1.6},
    "encoding": {"x": {"field": "pts", "type": "quantitative", "axis": null}, "y": {"field": "k", "type": "quantitative", "axis": null}, "y2": {"field": "k"}}},
   {"data": {"name": "nomo"},
    "transform": [{"filter": "datum.k === 1 && datum.v !== ''"}],
    "mark": {"type": "rule", "color": "#4d4d4d", "strokeWidth": 1, "y2Offset": -3},
    "encoding": {"x": {"field": "pts", "type": "quantitative", "axis": null}, "y": {"field": "k", "type": "quantitative", "axis": null}, "y2": {"field": "k"}}},
   {"data": {"name": "nomo"},
    "transform": [{"filter": "datum.k === 1 && datum.v === ''"}],
    "mark": {"type": "rule", "color": "#4d4d4d", "strokeWidth": 1, "y2Offset": -1.6},
    "encoding": {"x": {"field": "pts", "type": "quantitative", "axis": null}, "y": {"field": "k", "type": "quantitative", "axis": null}, "y2": {"field": "k"}}},
   {"data": {"name": "nomo"},
    "transform": [{"filter": "datum.v !== '' && datum.k > 1"}],
    "mark": {"type": "text", "baseline": "top", "dy": 5.8, "fontSize": 9.3},
    "encoding": {"x": {"field": "pts", "type": "quantitative", "axis": null}, "y": {"field": "k", "type": "quantitative", "axis": null}, "text": {"field": "v"}}},
   {"data": {"name": "nomo"},
    "transform": [{"filter": "datum.v !== '' && datum.k === 1"}],
    "mark": {"type": "text", "baseline": "alphabetic", "dy": -6.5, "fontSize": 9.3},
    "encoding": {"x": {"field": "pts", "type": "quantitative", "axis": null}, "y": {"field": "k", "type": "quantitative", "axis": null}, "text": {"field": "v"}}},
   {"data": {"name": "rows"},
    "mark": {"type": "text", "align": "left", "baseline": "middle", "fontSize": 10},
    "encoding": {"x": {"datum": -24.93, "axis": null}, "y": {"field": "k", "type": "quantitative", "axis": null}, "text": {"field": "row"}}},
   {"data": {"name": "rows"},
    "transform": [{"filter": "datum.k === 1"}],
    "mark": {"type": "text", "text": "B", "fontWeight": "bold", "fontSize": 12, "align": "left", "baseline": "middle"},
    "encoding": {"x": {"datum": -48, "axis": null}, "y": {"field": "k", "type": "quantitative", "axis": null}}}
  ]
 }
]
}
